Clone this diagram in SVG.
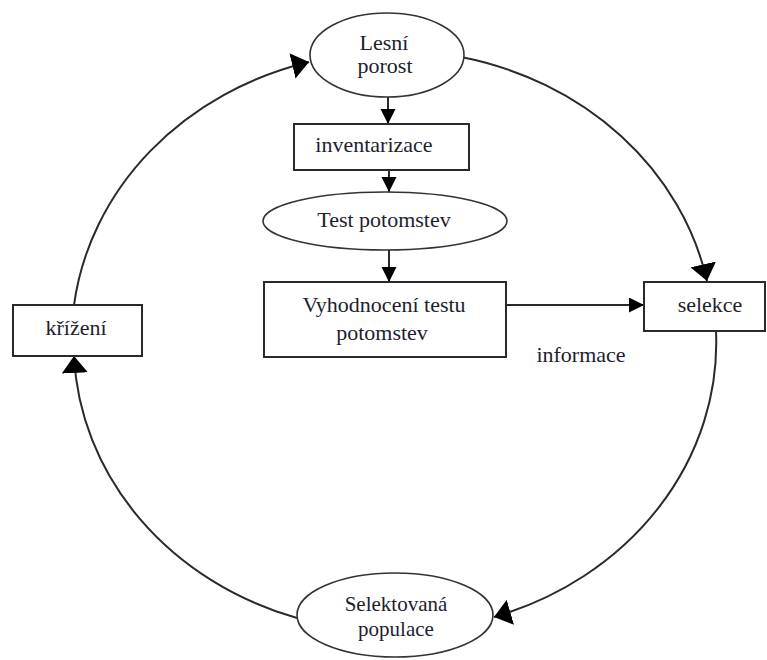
<svg xmlns="http://www.w3.org/2000/svg" width="767" height="660" viewBox="0 0 767 660">
<style>
.shape{fill:#fff;stroke:#2a2a2a;stroke-width:2}
.ell{fill:#fff;stroke:#333;stroke-width:1.6}
.t{font-family:"Liberation Serif","Times New Roman",serif;font-size:22px;fill:#1e1e2e;text-anchor:middle}
.c{fill:none;stroke:#2a2a2a;stroke-width:2}
</style>
<defs>
<marker id="big" markerUnits="userSpaceOnUse" markerWidth="18" markerHeight="26" refX="17" refY="13" orient="auto"><path d="M0,0 L17,13 L0,26 z" fill="#000"/></marker>
<marker id="small" markerUnits="userSpaceOnUse" markerWidth="16" markerHeight="16" refX="15" refY="7.5" orient="auto"><path d="M0,0 L15,7.5 L0,15 z" fill="#000"/></marker>
</defs>
<g id="connectors">
<path class="c" d="M461,57 A320,288 0 0 1 707,281" marker-end="url(#big)"/>
<path class="c" d="M716,331 A320,288 0 0 1 494,617" marker-end="url(#big)"/>
<path class="c" d="M297,618 A320,288 0 0 1 74,356" marker-end="url(#big)"/>
<path class="c" d="M74,305 A320,288 0 0 1 309,62" marker-end="url(#big)"/>
<line class="c" x1="388" y1="97" x2="388" y2="124" marker-end="url(#small)"/>
<line class="c" x1="389" y1="170" x2="389" y2="192" marker-end="url(#small)"/>
<line class="c" x1="389" y1="250" x2="389" y2="282" marker-end="url(#small)"/>
<line class="c" x1="506" y1="305" x2="644" y2="305" marker-end="url(#small)"/>
</g>
<g id="lesni-porost">
<ellipse class="ell" cx="387" cy="55" rx="77" ry="42"/>
<text class="t" x="384" y="50">Lesní</text>
<text class="t" x="385" y="73">porost</text>
</g>
<g id="inventarizace">
<rect class="shape" x="294" y="124" width="175" height="46"/>
<text class="t" x="374" y="152">inventarizace</text>
</g>
<g id="test-potomstev">
<ellipse class="ell" cx="385" cy="221" rx="122" ry="29"/>
<text class="t" x="384" y="227">Test potomstev</text>
</g>
<g id="vyhodnoceni">
<rect class="shape" x="264" y="282" width="242" height="75"/>
<text class="t" x="384" y="312">Vyhodnocení testu</text>
<text class="t" x="382" y="340">potomstev</text>
</g>
<g id="selekce">
<rect class="shape" x="644" y="282" width="121" height="49"/>
<text class="t" x="710" y="312">selekce</text>
</g>
<g id="informace-label">
<text class="t" x="581" y="362">informace</text>
</g>
<g id="selektovana-populace">
<ellipse class="ell" cx="395" cy="615" rx="98" ry="42"/>
<text class="t" x="396" y="611" style="font-size:21px">Selektovaná</text>
<text class="t" x="396" y="636" style="font-size:21px">populace</text>
</g>
<g id="krizeni">
<rect class="shape" x="13" y="305" width="129" height="51"/>
<text class="t" x="76" y="335">křížení</text>
</g>
</svg>
